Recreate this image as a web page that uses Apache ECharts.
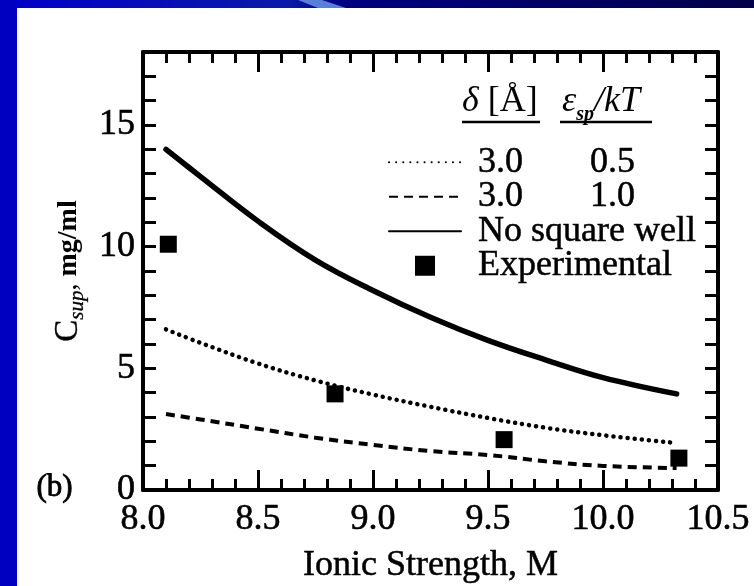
<!DOCTYPE html>
<html><head><meta charset="utf-8">
<script src="https://cdn.jsdelivr.net/npm/echarts@6/dist/echarts.min.js"></script>
<style>html,body{margin:0;padding:0;background:#fff;overflow:hidden}#c{width:754px;height:586px}</style>
</head><body><div id="c"></div>
<script>
// ---- data ----
const xTheory      = [8.1, 8.25, 8.5, 8.75, 9.0, 9.25, 9.5, 9.75, 10.0, 10.32];
const noSquareWell = [14.0, 12.88, 11.05, 9.45, 8.2, 7.1, 6.15, 5.35, 4.62, 3.95];
const well30_05    = [6.6, 6.05, 5.2, 4.5, 3.92, 3.42, 2.96, 2.56, 2.25, 1.93];
const well30_10    = [3.12, 2.9, 2.52, 2.15, 1.85, 1.6, 1.44, 1.18, 0.99, 0.9];
const expX         = [8.11, 8.835, 9.57, 10.33];
const expY         = [10.1, 3.95, 2.07, 1.31];
const xTickLabels  = ['8.0', '8.5', '9.0', '9.5', '10.0', '10.5'];
const yTickLabels  = ['0', '5', '10', '15'];
const legendRows   = [['3.0', '0.5'], ['3.0', '1.0']];
const names        = ['dotted', 'dashed', 'No square well', 'Experimental'];

const FONT = "'Liberation Serif', 'Times New Roman', serif";
const pairs = (xs, ys) => xs.map((x, i) => [x, ys[i]]);
const chart = echarts.init(document.getElementById('c'), null, {renderer: 'canvas'});

const xBase = {
  type: 'value', min: 8, max: 10.5, interval: 0.5,
  axisLine: {show: true, onZero: false, lineStyle: {color: '#000', width: 4}},
  axisTick: {show: true, inside: true, length: 20, lineStyle: {color: '#000', width: 3}},
  minorTick: {show: true, splitNumber: 5, length: 11, lineStyle: {color: '#000', width: 3}},
  splitLine: {show: false}, minorSplitLine: {show: false}
};
const yBase = {
  type: 'value', min: 0, max: 18, interval: 1,
  axisLine: {show: true, onZero: false, lineStyle: {color: '#000', width: 4}},
  axisTick: {show: true, inside: true, length: 13, lineStyle: {color: '#000', width: 3}},
  splitLine: {show: false}, minorSplitLine: {show: false}
};
const hideSym = {opacity: 0};

const option = {
  backgroundColor: '#ffffff',
  animation: false,
  grid: {left: 143, right: 36, top: 52, bottom: 96, containLabel: false, outerBoundsMode: 'none'},
  xAxis: [
    Object.assign({}, xBase, {
      position: 'bottom',
      axisLabel: {show: true, margin: 12, color: '#000', fontFamily: FONT, fontSize: 36,
        textBorderColor: '#000', textBorderWidth: 0.6,
        formatter: v => { const s = v.toFixed(1); return xTickLabels.indexOf(s) >= 0 ? s : ''; }},
      name: 'Ionic Strength, M', nameLocation: 'middle', nameGap: 58,
      nameTextStyle: {color: '#000', fontFamily: FONT, fontSize: 36, textBorderColor: '#000', textBorderWidth: 0.5}
    }),
    Object.assign({}, xBase, {position: 'top', axisLabel: {show: false}})
  ],
  yAxis: [
    Object.assign({}, yBase, {
      position: 'left',
      axisLabel: {show: true, margin: 8, color: '#000', fontFamily: FONT, fontSize: 36,
        textBorderColor: '#000', textBorderWidth: 0.6,
        formatter: v => { const s = String(v); return yTickLabels.indexOf(s) >= 0 ? s : ''; }},
      name: '{c|C}{s|sup}{i|,}{n| mg/ml}', nameLocation: 'middle', nameGap: 50, nameRotate: 90,
      nameTextStyle: {color: '#000', fontFamily: FONT, fontSize: 28,
        rich: {
          c: {fontFamily: FONT, fontSize: 33, color: '#000', verticalAlign: 'middle', lineHeight: 38, textBorderColor: '#000', textBorderWidth: 0.4},
          s: {fontFamily: FONT, fontSize: 21, fontStyle: 'italic', color: '#000', verticalAlign: 'bottom', lineHeight: 38, padding: [13, 0, 0, 0], textBorderColor: '#000', textBorderWidth: 0.3},
          i: {fontFamily: FONT, fontSize: 28, color: '#000', verticalAlign: 'middle', lineHeight: 38},
          n: {fontFamily: FONT, fontSize: 28, color: '#000', fontWeight: 'bold', verticalAlign: 'middle', lineHeight: 38}
        }}
    }),
    Object.assign({}, yBase, {position: 'right', axisLabel: {show: false}})
  ],
  legend: {
    show: true, orient: 'vertical', left: 383, top: 139,
    itemWidth: 72, itemHeight: 20, itemGap: -2,
    selectedMode: false,
    data: [
      {name: names[0], itemStyle: hideSym}, {name: names[1], itemStyle: hideSym}, {name: names[2], itemStyle: hideSym},
      {name: names[3], icon: 'path://M0,0h10v10h-10z', itemStyle: {opacity: 1, color: '#000'}}
    ],
    formatter: name => {
      const k = names.indexOf(name);
      if (k < 2) return '{s| }{a|' + legendRows[k][0] + '}{b|' + legendRows[k][1] + '}';
      return '{s| }{t|' + name + '}';
    },
    textStyle: {
      color: '#000', fontFamily: FONT, fontSize: 36, lineHeight: 35,
      rich: {
        s: {width: 12, fontSize: 36, lineHeight: 35},
        a: {width: 112, fontSize: 36, fontFamily: FONT, color: '#000', lineHeight: 35, textBorderColor: '#000', textBorderWidth: 0.5},
        b: {fontSize: 36, fontFamily: FONT, color: '#000', lineHeight: 35, textBorderColor: '#000', textBorderWidth: 0.5},
        t: {fontSize: 36, fontFamily: FONT, color: '#000', lineHeight: 35, textBorderColor: '#000', textBorderWidth: 0.5}
      }
    }
  },
  graphic: [
    {type: 'rect', left: 0, top: 0, z: 100, shape: {width: 754, height: 8},
      style: {fill: new echarts.graphic.LinearGradient(0, 0, 1, 0, [
        {offset: 0, color: '#0000c8'}, {offset: 0.38, color: '#0a1aa8'},
        {offset: 0.46, color: '#000080'}, {offset: 1, color: '#00004a'}])}},
    {type: 'polygon', z: 101, shape: {points: [[298, 0], [322, 0], [346, 8], [318, 8]]},
      style: {fill: '#5a7fd8'}},
    {type: 'rect', left: 0, top: 0, z: 102, shape: {width: 17, height: 586}, style: {fill: '#0000c0'}},
    {type: 'text', z: 50, left: 462, top: 84,
      style: {text: '{d|δ}{n| [Å]}', rich: {
        d: {fontFamily: FONT, fontSize: 36, fontStyle: 'italic', fill: '#000', textStroke: '#000', textStrokeWidth: 1},
        n: {fontFamily: FONT, fontSize: 36, fill: '#000', textStroke: '#000', textStrokeWidth: 0.5}}}},
    {type: 'line', z: 50, shape: {x1: 462, y1: 122, x2: 540, y2: 122}, style: {stroke: '#000', lineWidth: 2.5}},
    {type: 'text', z: 50, left: 562, top: 84,
      style: {text: '{e|ε}{s|sp}{k|/kT}', rich: {
        e: {fontFamily: FONT, fontSize: 36, fontStyle: 'italic', fill: '#000', textStroke: '#000', textStrokeWidth: 1},
        s: {fontFamily: FONT, fontSize: 20, fontStyle: 'italic', fontWeight: 'bold', fill: '#000', verticalAlign: 'bottom', padding: [26, 0, 0, 0]},
        k: {fontFamily: FONT, fontSize: 36, fontStyle: 'italic', fill: '#000', textStroke: '#000', textStrokeWidth: 0.5}}}},
    {type: 'line', z: 50, shape: {x1: 560, y1: 122, x2: 652, y2: 122}, style: {stroke: '#000', lineWidth: 2.5}},
    {type: 'text', z: 50, left: 36, top: 472,
      style: {text: '(b)', fontFamily: FONT, fontSize: 31, fill: '#000', stroke: '#000', lineWidth: 0.8}}
  ],
  series: [
    {name: names[0], type: 'line', data: pairs(xTheory, well30_05),
      smooth: 0.4, showSymbol: false, symbol: 'none', color: '#000',
      lineStyle: {color: '#000', width: 4.5, type: [0.1, 7], cap: 'round'}},
    {name: names[1], type: 'line', data: pairs(xTheory, well30_10),
      smooth: 0.4, showSymbol: false, symbol: 'none', color: '#000',
      lineStyle: {color: '#000', width: 4, type: [9, 6]}},
    {name: names[2], type: 'line', data: pairs(xTheory, noSquareWell),
      smooth: 0.4, showSymbol: false, symbol: 'none', color: '#000',
      lineStyle: {color: '#000', width: 5.5, cap: 'round'}},
    {name: names[3], type: 'scatter', data: pairs(expX, expY),
      symbol: 'rect', symbolSize: 17, itemStyle: {color: '#000', opacity: 1}}
  ]
};
chart.setOption(option);
</script></body></html>
